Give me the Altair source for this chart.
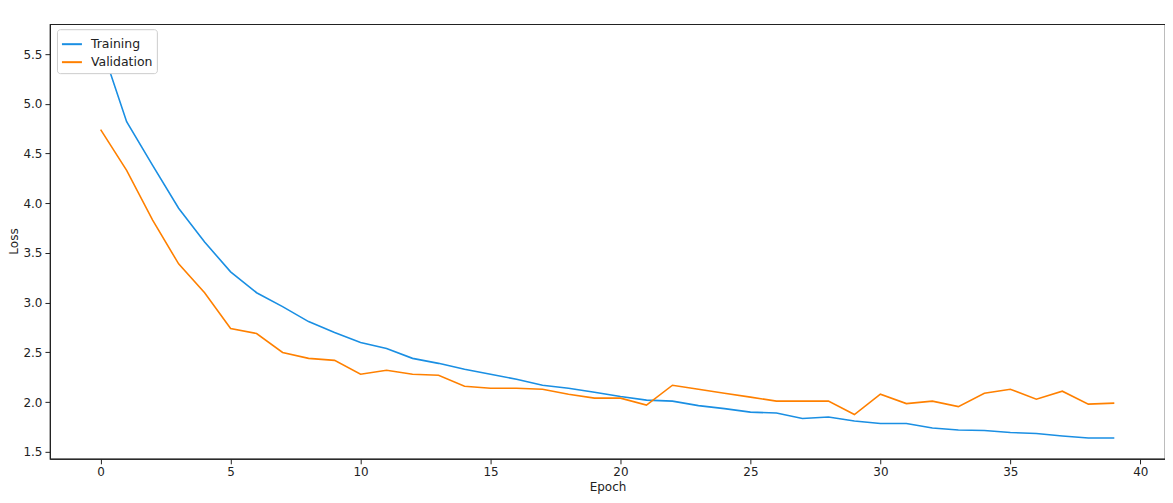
import altair as alt
import pandas as pd

epochs = list(range(40))
training = [5.60, 4.82, 4.38, 3.95, 3.61, 3.31, 3.10, 2.96, 2.81, 2.70,
            2.60, 2.54, 2.44, 2.39, 2.33, 2.28, 2.23, 2.17, 2.14, 2.10,
            2.056, 2.02, 2.01, 1.965, 1.935, 1.90, 1.89, 1.835, 1.85, 1.81,
            1.785, 1.785, 1.74, 1.72, 1.715, 1.695, 1.685, 1.66, 1.64, 1.64]
validation = [4.74, 4.33, 3.83, 3.39, 3.10, 2.74, 2.69, 2.50, 2.44, 2.42,
              2.28, 2.32, 2.28, 2.27, 2.16, 2.14, 2.14, 2.13, 2.08, 2.04,
              2.04, 1.97, 2.17, 2.13, 2.09, 2.05, 2.01, 2.01, 2.01, 1.875,
              2.08, 1.985, 2.01, 1.955, 2.09, 2.13, 2.03, 2.11, 1.98, 1.99]
series = ["Training", "Validation"]
colors = ["#1a8fe3", "#ff8000"]

rows = []
for e, t, v in zip(epochs, training, validation):
    rows.append({"Epoch": e, "Loss": t, "Series": series[0]})
    rows.append({"Epoch": e, "Loss": v, "Series": series[1]})
df = pd.DataFrame(rows)

FONT = "DejaVu Sans"

chart = alt.Chart(df).mark_line(strokeWidth=1.6, clip=True).encode(
    x=alt.X("Epoch:Q",
            scale=alt.Scale(domain=[-1.95, 40.95], nice=False, zero=False),
            axis=alt.Axis(values=[0, 5, 10, 15, 20, 25, 30, 35, 40], format="d",
                          grid=False, title="Epoch")),
    y=alt.Y("Loss:Q",
            scale=alt.Scale(domain=[1.43, 5.80], nice=False, zero=False),
            axis=alt.Axis(values=[1.5, 2.0, 2.5, 3.0, 3.5, 4.0, 4.5, 5.0, 5.5],
                          format=".1f", grid=False, title="Loss",
                          titleX=-36, titleY=217, titleAngle=270,
                          titleAlign="center", titleBaseline="middle")),
    color=alt.Color("Series:N",
                    scale=alt.Scale(domain=series, range=colors),
                    legend=alt.Legend(title=None, orient="none", legendX=7, legendY=5,
                                      symbolType="stroke", symbolStrokeWidth=2,
                                      symbolSize=400, labelFont=FONT, labelFontSize=12.5,
                                      labelColor="#222", fillColor="white",
                                      strokeColor="#cccccc", cornerRadius=3,
                                      padding=4, rowPadding=0, labelOffset=8)),
).properties(
    width=1116, height=435,
    autosize=alt.AutoSizeParams(type="none"),
    padding={"left": 42, "top": 16, "right": 0, "bottom": 40},
).configure_view(
    stroke="#222", strokeWidth=1.2,
).configure_axis(
    labelFont=FONT, labelFontSize=12, labelColor="#222",
    titleFont=FONT, titleFontSize=12, titleColor="#222", titleFontWeight="normal",
    domainColor="#222", tickColor="#222", tickSize=5, labelPadding=3,
).configure_axisX(titlePadding=4)

chart.save("out.html", embed_options={"renderer": "svg", "actions": False})
